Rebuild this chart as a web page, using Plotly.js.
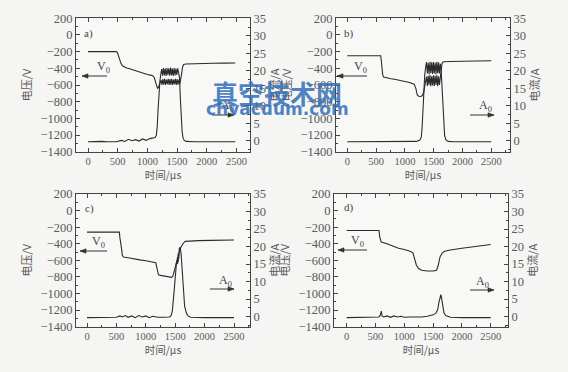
<!DOCTYPE html>
<html>
<head>
<meta charset="utf-8">
<script src="https://cdn.plot.ly/plotly-3.0.1.min.js"></script>
<style>html,body{margin:0;padding:0;background:#f5f5f3;}#chart{width:568px;height:372px;}</style>
</head>
<body>
<div id="chart"></div>
<script>
// ---- Panel a ----
const tVa = [0,480,495,515,535,555,580,610,650,700,760,820,880,940,1000,1050,1090,1115,1135,1155,1170,1185,1200,1215,1230,1245,1260,1275,1290,1305,1320,1335,1350,1365,1380,1395,1410,1425,1440,1455,1470,1485,1500,1515,1530,1545,1560,1575,1590,1610,1650,1750,1900,2100,2300,2480];
const vVa = [-200,-200,-210,-260,-310,-340,-370,-385,-395,-405,-420,-435,-450,-462,-475,-482,-488,-510,-570,-620,-640,-630,-600,-585,-540,-600,-530,-595,-525,-600,-535,-590,-525,-600,-530,-595,-525,-600,-535,-590,-525,-600,-530,-595,-535,-590,-545,-470,-390,-355,-348,-345,-342,-340,-338,-336];
const tIa = [0,80,160,240,320,400,480,560,620,680,740,800,860,920,980,1040,1090,1130,1150,1165,1180,1195,1210,1225,1240,1255,1270,1285,1300,1315,1330,1345,1360,1375,1390,1405,1420,1435,1450,1465,1480,1495,1510,1525,1540,1555,1570,1585,1600,1620,1650,1700,1800,1950,2100,2250,2400,2480];
const iIa = [-0.3,-0.2,-0.3,-0.2,-0.3,-0.2,-0.3,0.1,-0.2,0.4,0.0,0.3,-0.1,0.5,0.1,0.6,0.7,0.9,1.5,4,9,14,17,19,20.5,18.6,20.8,18.7,20.6,18.5,20.8,18.8,20.7,18.6,20.9,18.7,20.6,18.5,20.8,18.7,20.6,18.8,20.7,19.5,18,12,6,2.5,0.8,0.1,-0.2,-0.3,-0.3,-0.3,-0.3,-0.3,-0.3,-0.3];
// ---- Panel b ----
const tVb = [0,580,590,600,615,630,680,760,840,920,1000,1080,1160,1190,1215,1240,1270,1300,1325,1345,1360,1375,1390,1405,1420,1435,1450,1465,1480,1495,1510,1525,1540,1555,1570,1585,1600,1615,1630,1645,1665,1700,1800,2000,2200,2400,2500];
const vVb = [-250,-250,-300,-420,-480,-505,-515,-525,-535,-545,-555,-570,-590,-640,-720,-735,-738,-730,-690,-620,-560,-500,-610,-490,-600,-480,-615,-495,-605,-485,-610,-490,-600,-480,-615,-495,-600,-520,-430,-340,-322,-320,-318,-316,-314,-312,-310];
const tIb = [0,100,200,300,400,500,600,700,800,900,1000,1100,1200,1260,1285,1300,1315,1330,1345,1360,1375,1390,1405,1420,1435,1450,1465,1480,1495,1510,1525,1540,1555,1570,1585,1600,1615,1630,1645,1660,1675,1690,1710,1750,1850,2000,2200,2400,2500];
const iIb = [-0.3,-0.3,-0.2,-0.3,-0.3,-0.2,-0.3,-0.3,-0.2,-0.3,-0.3,-0.2,-0.2,0.2,1,4,10,16,19,21,22.5,19.2,22.3,19,22.6,19.3,22.4,19.1,22.5,19.2,22.3,19,22.6,19.3,22.4,19.2,22,20,15,9,4,1.5,0.3,-0.2,-0.3,-0.3,-0.3,-0.3,-0.3];
// ---- Panel c ----
const tVc = [0,550,560,575,590,600,620,700,800,900,1000,1100,1170,1185,1200,1215,1250,1300,1350,1400,1440,1460,1480,1500,1515,1530,1540,1550,1560,1575,1600,1630,1670,1750,1900,2100,2300,2500];
const vVc = [-260,-260,-330,-450,-470,-540,-560,-570,-585,-595,-605,-615,-630,-680,-750,-775,-782,-790,-795,-800,-805,-790,-750,-690,-640,-610,-560,-620,-540,-480,-440,-400,-372,-366,-363,-360,-358,-355];
const tIc = [0,100,200,300,400,500,560,600,650,700,760,820,880,940,1000,1060,1120,1200,1300,1400,1430,1450,1470,1490,1510,1525,1540,1550,1560,1570,1585,1600,1620,1640,1660,1690,1720,1760,1850,2000,2200,2400,2500];
const iIc = [-0.3,-0.3,-0.2,-0.3,-0.3,-0.2,0.2,-0.1,0.3,-0.2,0.2,-0.3,0.3,-0.1,0.2,-0.3,0.1,-0.2,-0.2,-0.1,0.3,1.5,5,10,14,16,15,18,16.5,19.5,19.8,18,13,7,3,1,0.2,-0.2,-0.3,-0.3,-0.3,-0.3,-0.3];
// ---- Panel d ----
const tVd = [0,560,575,600,700,800,900,1000,1100,1150,1180,1210,1250,1300,1400,1500,1560,1590,1620,1660,1700,1800,2000,2200,2400,2500];
const vVd = [-240,-240,-320,-380,-400,-430,-455,-470,-490,-510,-600,-660,-700,-720,-730,-730,-720,-660,-560,-510,-490,-475,-455,-435,-415,-410];
const tId = [0,100,200,300,400,500,560,585,600,615,640,700,760,820,880,940,1000,1100,1200,1300,1400,1450,1500,1550,1580,1600,1620,1635,1650,1670,1690,1720,1800,2000,2200,2400,2500];
const iId = [-0.3,-0.3,-0.2,-0.3,-0.3,-0.2,-0.1,0.4,1.6,0.2,-0.1,0.2,-0.2,0.2,-0.1,0.1,-0.2,-0.1,-0.2,-0.1,0.1,0.2,0.5,1,2,4,6,6.3,5,2.5,1,0.3,-0.2,-0.3,-0.3,-0.3,-0.3];

const panelLabels = ['a)','b)','c)','d)'];
const xTitle = '时间/μs';
const yLeftTitle = '电压/V';
const yRightTitle = '电流/A';
const vLegend = 'V<sub>0</sub>';
const aLegend = 'A<sub>0</sub>';

const W = 568, H = 372;
const X = p => p / W;
const Y = p => 1 - p / H;

const lineC = '#2b2b2b', axC = '#444', txtC = '#5a5a5a';
const serif = 'Liberation Serif', cjk = 'Noto Sans CJK SC';

const traces = [];
function addPanel(tv, v, ti, i, xa, yl, yr) {
  traces.push({x: tv, y: v, xaxis: xa, yaxis: yl, type: 'scatter', mode: 'lines', line: {color: lineC, width: 1.1}, hoverinfo: 'skip'});
  traces.push({x: ti, y: i, xaxis: xa, yaxis: yr, type: 'scatter', mode: 'lines', line: {color: lineC, width: 1.1}, hoverinfo: 'skip'});
}
addPanel(tVa, vVa, tIa, iIa, 'x', 'y', 'y2');
addPanel(tVb, vVb, tIb, iIb, 'x2', 'y3', 'y4');
addPanel(tVc, vVc, tIc, iIc, 'x3', 'y5', 'y6');
addPanel(tVd, vVd, tId, iId, 'x4', 'y7', 'y8');

function xax(l, r, range, anchor) {
  return {domain: [X(l), X(r)], range: range, anchor: anchor, dtick: 500, tick0: 0,
    ticks: 'inside', ticklen: 4, tickcolor: axC, tickangle: 0,
    minor: {dtick: 250, tick0: 0, ticks: 'inside', ticklen: 2, tickcolor: axC},
    showline: true, linecolor: axC, linewidth: 1, mirror: 'ticks',
    showgrid: false, zeroline: false, automargin: false,
    tickfont: {family: serif, size: 10.5, color: txtC},
    title: {text: xTitle, font: {family: cjk, size: 10.5, color: txtC}, standoff: 5}};
}
function ylax(t, b, anchor) {
  return {domain: [Y(b), Y(t)], range: [-1400, 200], anchor: anchor, dtick: 200, tick0: 0,
    ticks: 'inside', ticklen: 4, tickcolor: axC,
    minor: {dtick: 100, ticks: 'inside', ticklen: 2, tickcolor: axC},
    showline: true, linecolor: axC, linewidth: 1,
    showgrid: false, zeroline: false, automargin: false,
    tickfont: {family: serif, size: 12.5, color: txtC},
    title: {text: yLeftTitle, font: {family: cjk, size: 11, color: txtC}, standoff: 6}};
}
function yrax(over, anchor, lo) {
  return {overlaying: over, side: 'right', anchor: anchor, range: [lo, 35], dtick: 5, tick0: 0,
    ticks: 'inside', ticklen: 4, tickcolor: axC,
    minor: {dtick: 2.5, ticks: 'inside', ticklen: 2, tickcolor: axC},
    showline: true, linecolor: axC, linewidth: 1,
    showgrid: false, zeroline: false, automargin: false,
    tickfont: {family: serif, size: 12.5, color: txtC},
    title: {text: yRightTitle, font: {family: cjk, size: 11, color: txtC}, standoff: 2}};
}

const ann = [];
const shapes = [];
function txt(px, py, s, size) {
  ann.push({xref: 'paper', yref: 'paper', x: X(px), y: Y(py), text: s, showarrow: false,
    xanchor: 'left', yanchor: 'middle', font: {family: serif, size: size, color: '#444'}});
}
// arrow drawn as a line plus a small filled head; dir = -1 points left, +1 points right
function arrow(x0, x1, py, dir) {
  shapes.push({type: 'line', xref: 'paper', yref: 'paper', x0: X(x0), x1: X(x1), y0: Y(py), y1: Y(py),
    line: {color: '#333', width: 1}});
  const hx = dir < 0 ? x0 : x1;
  const bx = hx - dir * 6;
  shapes.push({type: 'path', xref: 'paper', yref: 'paper',
    path: `M ${X(hx)} ${Y(py)} L ${X(bx)} ${Y(py - 2.2)} L ${X(bx)} ${Y(py + 2.2)} Z`,
    fillcolor: '#333', line: {color: '#333', width: 0.6}});
}
// panel a
txt(82, 33, panelLabels[0], 11); txt(95, 67, vLegend, 12); arrow(82, 107, 76, -1); txt(219, 106, aLegend, 12); arrow(212, 234, 115, 1);
// panel b
txt(342, 33, panelLabels[1], 11); txt(352, 67, vLegend, 12); arrow(337, 367, 76, -1); txt(477, 106, aLegend, 12); arrow(470, 494, 115, 1);
// panel c
txt(83, 209, panelLabels[2], 11); txt(90, 242, vLegend, 12); arrow(80, 107, 251, -1); txt(217, 281, aLegend, 12); arrow(210, 234, 289, 1);
// panel d
txt(342, 208, panelLabels[3], 11); txt(349, 241, vLegend, 12); arrow(338, 367, 250, -1); txt(474, 282, aLegend, 12); arrow(470, 494, 290, 1);
// watermark
ann.push({xref: 'paper', yref: 'paper', x: X(277), y: Y(72), text: '<b>真空技术网</b>', showarrow: false,
  font: {family: cjk, size: 26, color: 'rgba(50,110,185,0.85)'}});
ann.push({xref: 'paper', yref: 'paper', x: X(277), y: Y(97), text: '<b>chvacuum.com</b>', showarrow: false,
  font: {family: 'DejaVu Sans', size: 17, color: 'rgba(50,110,185,0.85)'}});

const layout = {
  width: W, height: H, margin: {l: 0, r: 0, t: 0, b: 0},
  paper_bgcolor: '#f5f5f3', plot_bgcolor: '#f8f8f6', showlegend: false,
  xaxis: xax(76, 250, [-202, 2727], 'y'),
  yaxis: ylax(18.3, 151.7, 'x'),
  yaxis2: yrax('y', 'x', -3.14),
  xaxis2: xax(336, 510, [-196, 2825], 'y3'),
  yaxis3: ylax(18.3, 151.7, 'x2'),
  yaxis4: yrax('y3', 'x2', -3.14),
  xaxis3: xax(76, 250, [-187, 2772], 'y5'),
  yaxis5: ylax(194, 326.6, 'x3'),
  yaxis6: yrax('y5', 'x3', -2.85),
  xaxis4: xax(334, 508, [-220, 2800], 'y7'),
  yaxis7: ylax(194, 326.6, 'x4'),
  yaxis8: yrax('y7', 'x4', -2.85),
  annotations: ann,
  shapes: shapes
};
Plotly.newPlot('chart', traces, layout, {staticPlot: true, displayModeBar: false});
</script>
</body>
</html>
